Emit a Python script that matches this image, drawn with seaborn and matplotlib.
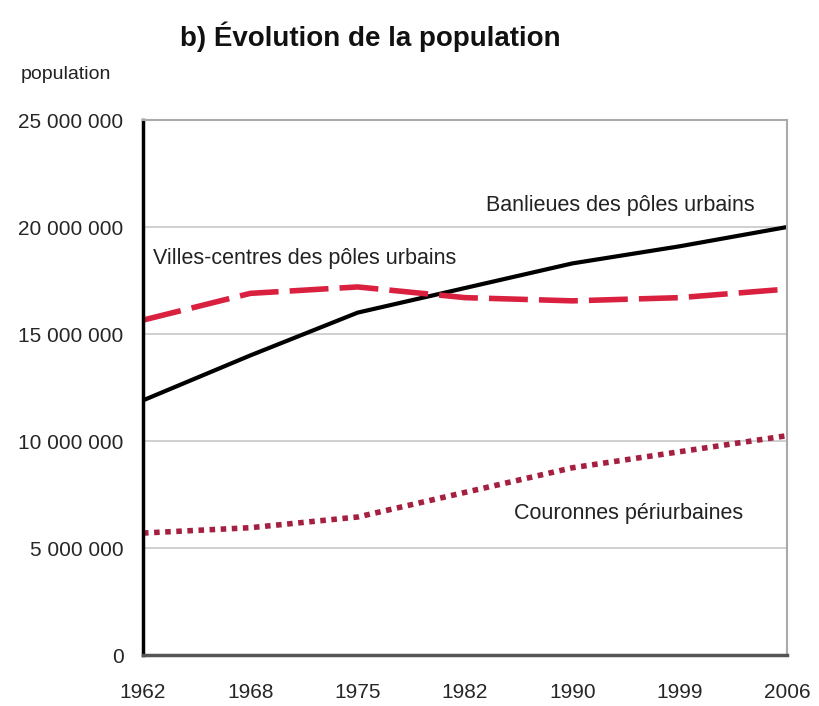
import matplotlib
matplotlib.use("Agg")
import matplotlib.pyplot as plt
import seaborn as sns
import pandas as pd

# Data
years = ["1962", "1968", "1975", "1982", "1990", "1999", "2006"]
banlieues = [11900000, 14000000, 16000000, 17150000, 18300000, 19100000, 20000000]
villes_centres = [15650000, 16900000, 17200000, 16700000, 16550000, 16700000, 17100000]
couronnes = [5700000, 5950000, 6450000, 7600000, 8750000, 9500000, 10250000]

sns.set_style("white")
plt.rcParams["font.family"] = ["Liberation Sans Narrow", "Liberation Sans", "DejaVu Sans"]

x = list(range(len(years)))
df = pd.DataFrame({"x": x * 3,
                   "pop": banlieues + villes_centres + couronnes,
                   "serie": ["Banlieues"] * 7 + ["Villes"] * 7 + ["Couronnes"] * 7})

fig = plt.figure(figsize=(8.19, 7.06), dpi=100)
ax = fig.add_axes([0.1746, 0.0722, 0.7864, 0.7578])

for y in [5e6, 10e6, 15e6, 20e6]:
    ax.axhline(y, color="#c8c8c8", lw=1.2, zorder=0)

sns.lineplot(data=df[df.serie == "Banlieues"], x="x", y="pop", color="black", lw=3, ax=ax)
sns.lineplot(data=df[df.serie == "Villes"], x="x", y="pop", color="#d9203f", lw=4, ax=ax,
             linestyle=(0, (7, 2)))
sns.lineplot(data=df[df.serie == "Couronnes"], x="x", y="pop", color="#a52040", lw=4, ax=ax,
             linestyle=(0, (1, 1)))

ax.set_xlim(0, 6)
ax.set_ylim(0, 25e6)
ax.set_xticks(x)
ax.set_xticklabels(years)
ax.set_yticks([0, 5e6, 10e6, 15e6, 20e6, 25e6])
ax.set_yticklabels(["0", "5 000 000", "10 000 000", "15 000 000", "20 000 000", "25 000 000"])
ax.tick_params(axis="x", direction="in", length=5, width=1, color="#555555",
               labelsize=15, pad=20)
ax.tick_params(axis="y", length=0, labelsize=15, pad=14)
ax.set_xlabel("")
ax.set_ylabel("")

ax.spines["left"].set_color("black")
ax.spines["left"].set_linewidth(2.5)
ax.spines["bottom"].set_color("#555555")
ax.spines["bottom"].set_linewidth(2.5)
ax.spines["top"].set_color("#aaaaaa")
ax.spines["top"].set_linewidth(1.5)
ax.spines["right"].set_color("#aaaaaa")
ax.spines["right"].set_linewidth(1.5)

ax.text(4.45, 21.0e6, "Banlieues des pôles urbains", fontsize=15.5, ha="center", va="center",
        color="#222222")
ax.text(0.09, 18.55e6, "Villes-centres des pôles urbains", fontsize=15.5, ha="left", va="center",
        color="#222222")
ax.text(4.52, 6.63e6, "Couronnes périurbaines", fontsize=15.5, ha="center", va="center",
        color="#222222")

fig.text(0.025, 0.894, "population", fontsize=14, va="center", color="#222222")
fig.text(0.452, 0.948, "b) Évolution de la population", fontsize=20, fontweight="bold",
         ha="center", va="center", color="#111111")

fig.savefig("out.png", dpi=100)
